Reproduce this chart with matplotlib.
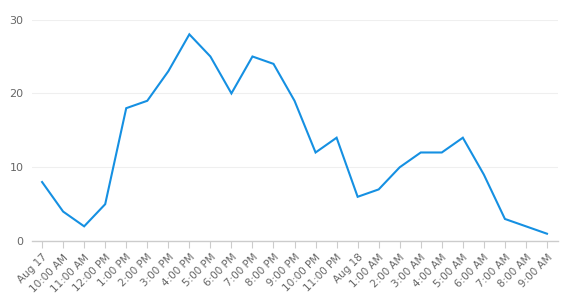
import matplotlib
matplotlib.use("Agg")
import matplotlib.pyplot as plt

labels = ["Aug 17", "10:00 AM", "11:00 AM", "12:00 PM", "1:00 PM", "2:00 PM",
          "3:00 PM", "4:00 PM", "5:00 PM", "6:00 PM", "7:00 PM", "8:00 PM",
          "9:00 PM", "10:00 PM", "11:00 PM", "Aug 18", "1:00 AM", "2:00 AM",
          "3:00 AM", "4:00 AM", "5:00 AM", "6:00 AM", "7:00 AM", "8:00 AM",
          "9:00 AM"]
values = [8, 4, 2, 5, 18, 19, 23, 28, 25, 20, 25, 24, 19, 12, 14, 6, 7, 10,
          12, 12, 14, 9, 3, 2, 1]
yticks = [0, 10, 20, 30]

fig = plt.figure(figsize=(5.67, 3.01), dpi=100)
ax = fig.add_axes([0.0564, 0.199, 0.9276, 0.736])

x = list(range(len(values)))
ax.plot(x, values, color="#1590e2", linewidth=1.5, solid_joinstyle="miter")

ax.set_xlim(-0.48, len(values) - 0.48)
ax.set_ylim(0, 30)
ax.set_yticks(yticks)
ax.set_xticks(x)
ax.set_xticklabels(labels, rotation=45, ha="right", rotation_mode="anchor",
                   fontsize=7.5, color="#666666")
ax.tick_params(axis="y", length=0, pad=6, labelsize=8, labelcolor="#666666")
ax.tick_params(axis="x", length=5, color="#cccccc", pad=3)

ax.grid(axis="y", color="#efefef", linewidth=0.8)
ax.set_axisbelow(True)
for s in ["top", "right", "left"]:
    ax.spines[s].set_visible(False)
ax.spines["bottom"].set_color("#cccccc")
ax.spines["bottom"].set_linewidth(1)

fig.savefig("out.png", dpi=100)
